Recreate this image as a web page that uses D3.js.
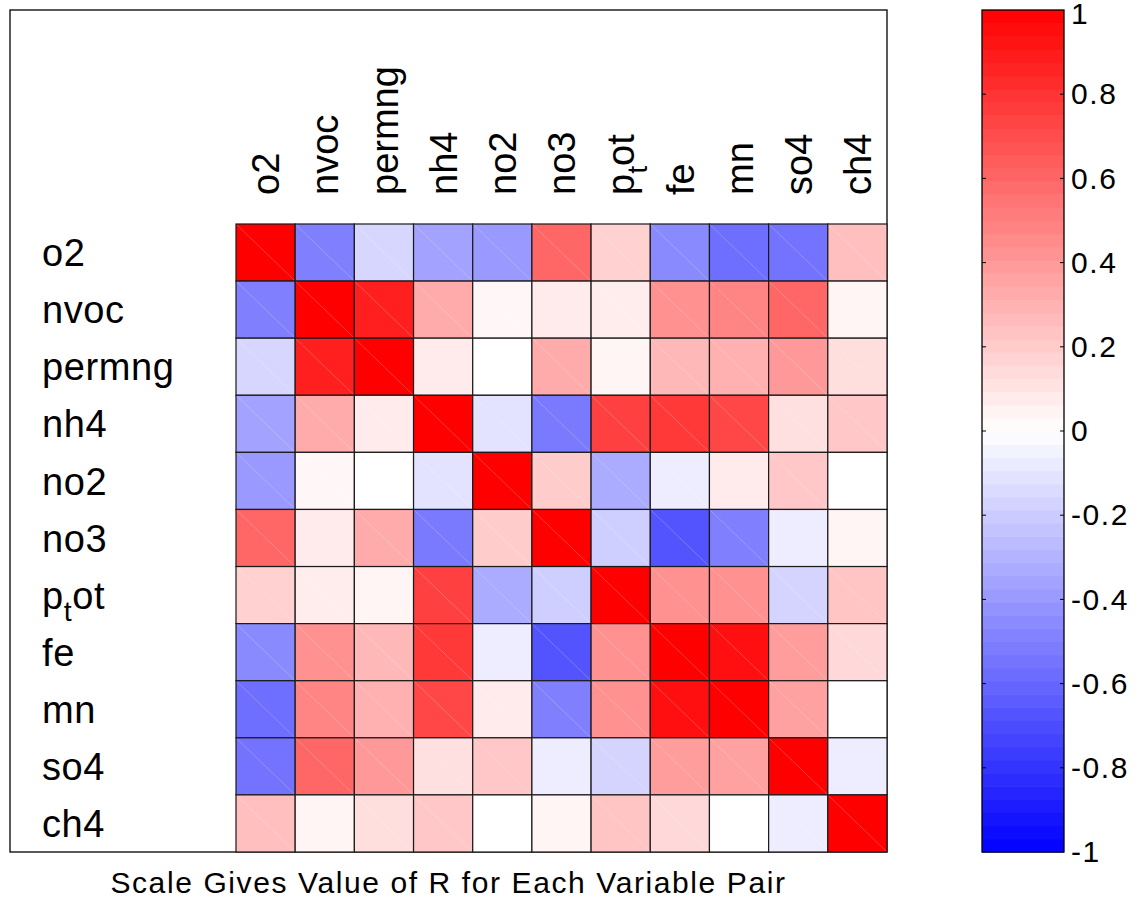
<!DOCTYPE html>
<html>
<head>
<meta charset="utf-8">
<script src="https://cdn.jsdelivr.net/npm/d3@7"></script>
<style>
  html, body { margin: 0; padding: 0; background: #fff; }
  svg { display: block; font-family: "Liberation Sans", Arial, sans-serif; }
</style>
</head>
<body>
<svg id="chart" width="1147" height="901"></svg>
<script>
// Variable names (row and column order of the correlation matrix)
const variables = ["o2", "nvoc", "permng", "nh4", "no2", "no3", "p_tot", "fe", "mn", "so4", "ch4"];

// Correlation coefficients R, one row per variable
const rO2     = [ 1.00, -0.50, -0.16, -0.36, -0.40,  0.60,  0.18, -0.46, -0.57, -0.55,  0.25];
const rNvoc   = [-0.50,  1.00,  0.88,  0.33,  0.03,  0.08,  0.07,  0.43,  0.48,  0.60,  0.04];
const rPermng = [-0.16,  0.88,  1.00,  0.08,  0.00,  0.33,  0.04,  0.28,  0.31,  0.40,  0.13];
const rNh4    = [-0.36,  0.33,  0.08,  1.00, -0.11, -0.52,  0.75,  0.78,  0.72,  0.12,  0.22];
const rNo2    = [-0.40,  0.03,  0.00, -0.11,  1.00,  0.20, -0.33, -0.07,  0.08,  0.22,  0.00];
const rNo3    = [ 0.60,  0.08,  0.33, -0.52,  0.20,  1.00, -0.19, -0.67, -0.50, -0.07,  0.04];
const rPtot   = [ 0.18,  0.07,  0.04,  0.75, -0.33, -0.19,  1.00,  0.43,  0.43, -0.17,  0.23];
const rFe     = [-0.46,  0.43,  0.28,  0.78, -0.07, -0.67,  0.43,  1.00,  0.94,  0.39,  0.15];
const rMn     = [-0.57,  0.48,  0.31,  0.72,  0.08, -0.50,  0.43,  0.94,  1.00,  0.37,  0.00];
const rSo4    = [-0.55,  0.60,  0.40,  0.12,  0.22, -0.07, -0.17,  0.39,  0.37,  1.00, -0.07];
const rCh4    = [ 0.25,  0.04,  0.13,  0.22,  0.00,  0.04,  0.23,  0.15,  0.00, -0.07,  1.00];

const rMatrix = [rO2, rNvoc, rPermng, rNh4, rNo2, rNo3, rPtot, rFe, rMn, rSo4, rCh4];

// Colour bar tick values
const colorTicks = [1, 0.8, 0.6, 0.4, 0.2, 0, -0.2, -0.4, -0.6, -0.8, -1];

const titleText = "Scale Gives Value of R for Each Variable Pair";

// ---------------------------------------------------------------
const svg = d3.select("#chart");

const frame = { left: 10, top: 10, right: 887, bottom: 852 };
const grid  = { left: 236, top: 224, right: 887, bottom: 852 };
const cbar  = { left: 982, right: 1064, top: 10, bottom: 852 };

const labelSize = 38;

// Blue - white - red colour map; the colour bar shows it in 64 steps
const nLevels = 64;
const baseColor = d3.scaleLinear()
  .domain([-1, 0, 1])
  .range(["#0000ff", "#ffffff", "#ff0000"])
  .interpolate(d3.interpolateRgb);
const levelColors = d3.range(nLevels).map(i => baseColor(-1 + (2 * (i + 0.5)) / nLevels));
const cellColor = v => baseColor(v);

const x = d3.scaleBand().domain(variables).range([grid.left, grid.right]);
const y = d3.scaleBand().domain(variables).range([grid.top, grid.bottom]);

// Axes frame
svg.append("rect")
  .attr("x", frame.left).attr("y", frame.top)
  .attr("width", frame.right - frame.left).attr("height", frame.bottom - frame.top)
  .attr("fill", "#fff").attr("stroke", "#000").attr("stroke-width", 1.3);

// Cells
const cells = [];
rMatrix.forEach((row, i) => row.forEach((v, j) => cells.push({ r: variables[i], c: variables[j], v })));

const cellG = svg.append("g");
cellG.selectAll("rect.cell")
  .data(cells)
  .join("rect")
  .attr("class", "cell")
  .attr("x", d => x(d.c))
  .attr("y", d => y(d.r))
  .attr("width", x.bandwidth())
  .attr("height", y.bandwidth())
  .attr("fill", d => cellColor(d.v))
  .attr("stroke", "#1a1a1a")
  .attr("stroke-width", 1.2);

// faint diagonal seam across each patch
cellG.selectAll("line.seam")
  .data(cells)
  .join("line")
  .attr("class", "seam")
  .attr("x1", d => x(d.c) + 1).attr("y1", d => y(d.r) + 1)
  .attr("x2", d => x(d.c) + x.bandwidth() - 1).attr("y2", d => y(d.r) + y.bandwidth() - 1)
  .attr("stroke", "#fff").attr("stroke-opacity", 0.28).attr("stroke-width", 0.8);

// Label helper: handles the "_" subscript in p_tot
function writeLabel(sel, name) {
  const parts = name.split("_");
  sel.append("tspan").text(parts[0]);
  if (parts.length > 1) {
    const rest = parts[1];
    sel.append("tspan").attr("font-size", labelSize * 0.75).attr("dy", labelSize * 0.32).text(rest[0]);
    sel.append("tspan").attr("dy", -labelSize * 0.32).text(rest.slice(1));
  }
}

// Row labels
variables.forEach(name => {
  const t = svg.append("text")
    .attr("x", 42)
    .attr("y", y(name) + y.bandwidth() / 2 + labelSize * 0.36)
    .attr("font-size", labelSize)
    .attr("letter-spacing", 0.6)
    .attr("fill", "#000");
  writeLabel(t, name);
});

// Column labels (rotated)
variables.forEach(name => {
  const cx = x(name) + x.bandwidth() / 2 + labelSize * 0.36;
  const t = svg.append("text")
    .attr("transform", `translate(${cx},195) rotate(-90)`)
    .attr("font-size", labelSize)
    .attr("fill", "#000");
  writeLabel(t, name);
});

// Title under the matrix
svg.append("text")
  .attr("x", (frame.left + frame.right) / 2)
  .attr("y", 893)
  .attr("text-anchor", "middle")
  .attr("font-size", 30)
  .attr("letter-spacing", 1.6)
  .text(titleText);

// Colour bar
const cy = d3.scaleLinear().domain([-1, 1]).range([cbar.bottom, cbar.top]);
const bandH = (cbar.bottom - cbar.top) / nLevels;
svg.append("g").selectAll("rect")
  .data(levelColors)
  .join("rect")
  .attr("x", cbar.left)
  .attr("y", (d, i) => cy(-1 + (2 * (i + 1)) / nLevels))
  .attr("width", cbar.right - cbar.left)
  .attr("height", bandH + 0.6)
  .attr("fill", d => d);

svg.append("rect")
  .attr("x", cbar.left).attr("y", cbar.top)
  .attr("width", cbar.right - cbar.left).attr("height", cbar.bottom - cbar.top)
  .attr("fill", "none").attr("stroke", "#000").attr("stroke-width", 1.3);

// inner tick marks on both sides
const tickG = svg.append("g");
colorTicks.filter(t => Math.abs(t) < 1).forEach(t => {
  tickG.append("line").attr("x1", cbar.left).attr("x2", cbar.left + 4)
    .attr("y1", cy(t)).attr("y2", cy(t)).attr("stroke", "#000").attr("stroke-width", 1);
  tickG.append("line").attr("x1", cbar.right - 4).attr("x2", cbar.right)
    .attr("y1", cy(t)).attr("y2", cy(t)).attr("stroke", "#000").attr("stroke-width", 1);
});

// tick labels via a right axis with zero-length ticks
const cAxis = d3.axisRight(cy)
  .tickValues(colorTicks)
  .tickSize(0)
  .tickPadding(7)
  .tickFormat(d => String(+d.toFixed(1)));
const axG = svg.append("g")
  .attr("transform", `translate(${cbar.right},0)`)
  .call(cAxis);
axG.select(".domain").remove();
axG.selectAll("text")
  .attr("font-size", 30)
  .attr("letter-spacing", 1.6)
  .attr("font-family", "'Liberation Sans', Arial, sans-serif")
  .attr("fill", "#000");
// keep the top label inside the page
axG.selectAll(".tick").filter(d => d === 1).select("text").attr("dy", "0.45em");
</script>
</body>
</html>
